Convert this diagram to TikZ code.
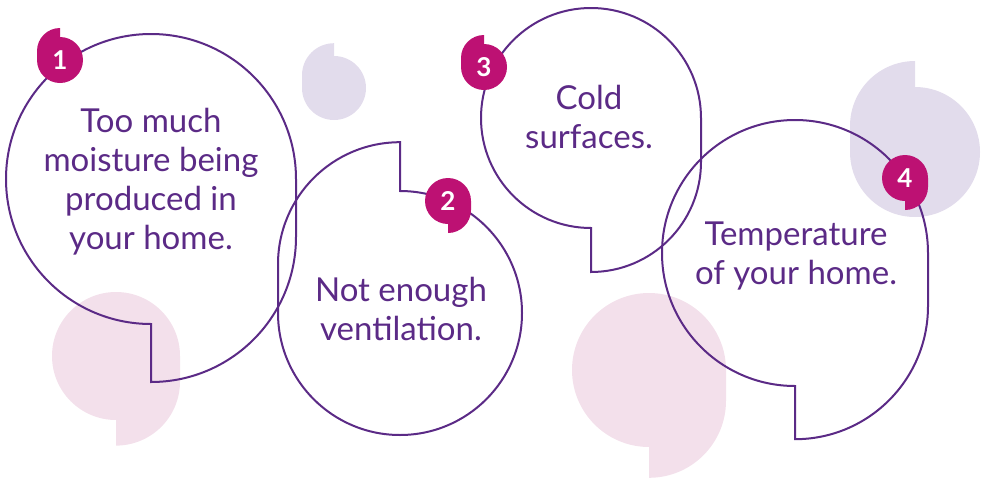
\documentclass[tikz,border=0pt]{standalone}
\usepackage{fontspec}
\setmainfont{Lato}
\usepackage{tikz}

\definecolor{linepurple}{HTML}{5B2A86}
\definecolor{badgepink}{HTML}{BD1173}
\definecolor{softlilac}{HTML}{E2DCEC}
\definecolor{softpink}{HTML}{F3E0EB}

\begin{document}
\begin{tikzpicture}[x=0.5pt, y=0.5pt,
    bubbletext/.style={text=linepurple, align=center,
        font=\fontsize{16.5}{19.5}\selectfont},
    badgetext/.style={text=white, font=\fontsize{13}{15}\selectfont\bfseries}]
    \useasboundingbox (0,0) rectangle (986,-477);
    % soft shapes in the back
    \foreach \cx/\cy/\r/\a/\col in {334/88/32/180/softlilac, 915/152/65/180/softlilac,
        116/356/64/0/softpink, 649/370/77/0/softpink}{
        \fill[\col, shift={(\cx,-\cy)}, rotate=\a]
            (\r,0) arc[start angle=0, end angle=270, radius=\r]
            -- ++(0,-0.4*\r) arc[start angle=270, end angle=360, radius=\r] -- cycle;
    }
    % outlined bubbles
    \foreach \cx/\cy/\r/\a in {151/179/145/0, 400/313/122/180,
        591/118/110/0, 795/253/133/0}{
        \draw[linepurple, line width=1pt, shift={(\cx,-\cy)}, rotate=\a]
            (\r,0) arc[start angle=0, end angle=270, radius=\r]
            -- ++(0,-0.4*\r) arc[start angle=270, end angle=360, radius=\r] -- cycle;
    }
    \node[bubbletext] (t1) at (151,-182) {Too much\\moisture being\\produced in\\your home.};
    \node[bubbletext] (t2) at (401,-309) {Not enough\\ventilation.};
    \node[bubbletext] (t3) at (589,-117) {Cold\\surfaces.};
    \node[bubbletext] (t4) at (796,-256) {Temperature\\of your home.};
    % number badges
    \foreach \i/\cx/\cy/\a in {1/60/60/180, 2/448/201/0, 3/484/67/180, 4/905/178/0}{
        \fill[badgepink, shift={(\cx,-\cy)}, rotate=\a]
            (23,0) arc[start angle=0, end angle=270, radius=23]
            -- ++(0,-9) arc[start angle=270, end angle=360, radius=23] -- cycle;
        \node[badgetext] (n\i) at (\cx,-\cy) {\i};
    }
\end{tikzpicture}
\end{document}
